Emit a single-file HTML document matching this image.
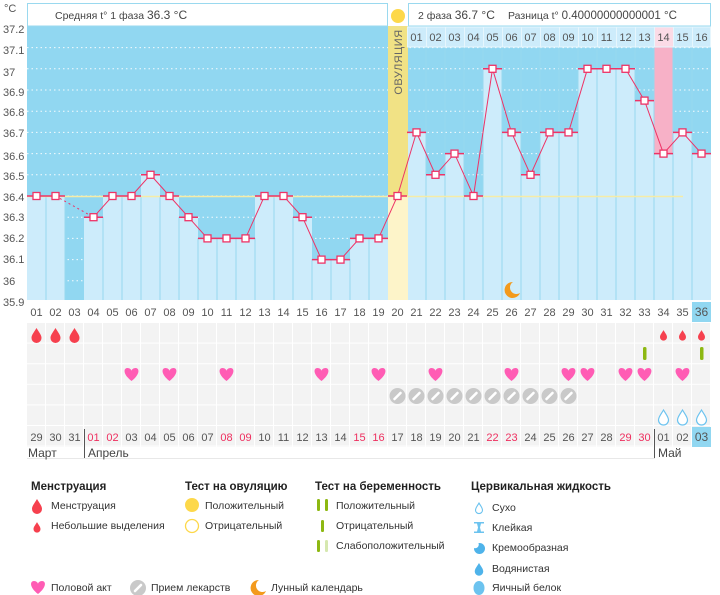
<!DOCTYPE html>
<html><head><meta charset="utf-8"><style>
html,body{margin:0;padding:0;background:#fff;width:720px;height:595px;overflow:hidden}
svg{display:block;font-family:"Liberation Sans","DejaVu Sans",sans-serif}
.ax{font-size:11px;fill:#555}
.dl{font-size:11px;fill:#555;text-anchor:middle}
.rd{fill:#ee2f5f}
.lh{font-size:11.5px;font-weight:bold;fill:#222}
.lt{font-size:10.5px;fill:#333}
</style></head><body>
<svg width="720" height="595" viewBox="0 0 720 595" xmlns="http://www.w3.org/2000/svg">
<defs>
<path id="drop" d="M0,-7 C3,-2 5,0 5,3 A5,5 0 0 1 -5,3 C-5,0 -3,-2 0,-7Z"/>
<path id="heart" d="M0,6 C-9,-1 -8,-7 -4,-7 C-2,-7 0,-5.5 0,-4 C0,-5.5 2,-7 4,-7 C8,-7 9,-1 0,6Z" fill="#ff5cb4"/>
<g id="pill"><circle r="8" fill="#c9c9c9"/><line x1="-3" y1="3" x2="3" y2="-3" stroke="#fff" stroke-width="2.6" stroke-linecap="round"/></g>
<path id="moon" d="M1,-8 A8,8 0 1 0 8,3 A6,6 0 0 1 1,-8Z" fill="#f39a1c"/>
<pattern id="cells" x="27" y="323" width="19" height="20.6" patternUnits="userSpaceOnUse">
<rect x="0" y="0" width="18" height="19.6" fill="#f3f3f3"/></pattern>
</defs>

<!-- y axis labels -->
<text class="ax" x="4" y="12">°C</text>
<text class="ax" x="3" y="33">37.2</text>
<text class="ax" x="3" y="54">37.1</text>
<text class="ax" x="3" y="76">37</text>
<text class="ax" x="3" y="96">36.9</text>
<text class="ax" x="3" y="116">36.8</text>
<text class="ax" x="3" y="137">36.7</text>
<text class="ax" x="3" y="160">36.6</text>
<text class="ax" x="3" y="180">36.5</text>
<text class="ax" x="3" y="201">36.4</text>
<text class="ax" x="3" y="221">36.3</text>
<text class="ax" x="3" y="242">36.2</text>
<text class="ax" x="3" y="263">36.1</text>
<text class="ax" x="3" y="285">36</text>
<text class="ax" x="3" y="306">35.9</text>

<!-- plot bg -->
<rect x="27" y="26" width="684" height="274" fill="#91d7f1"/>
<g stroke="#fff" stroke-dasharray="1.5,3" stroke-width="1" opacity="0.9">
<line x1="27" y1="47.6" x2="711" y2="47.6"/><line x1="27" y1="68.8" x2="711" y2="68.8"/>
<line x1="27" y1="90" x2="711" y2="90"/><line x1="27" y1="111.2" x2="711" y2="111.2"/>
<line x1="27" y1="132.4" x2="711" y2="132.4"/><line x1="27" y1="153.6" x2="711" y2="153.6"/>
<line x1="27" y1="174.8" x2="711" y2="174.8"/><line x1="27" y1="196" x2="711" y2="196"/>
<line x1="27" y1="217.2" x2="711" y2="217.2"/><line x1="27" y1="238.4" x2="711" y2="238.4"/>
<line x1="27" y1="259.6" x2="711" y2="259.6"/><line x1="27" y1="280.8" x2="711" y2="280.8"/>
</g>

<!-- bars -->
<g fill="#cdecfb">
<rect x="27" y="196" width="19" height="104"/><rect x="46" y="196" width="19" height="104"/>
<rect x="84" y="217.2" width="19" height="82.8"/><rect x="103" y="196" width="19" height="104"/>
<rect x="122" y="196" width="19" height="104"/><rect x="141" y="174.8" width="19" height="125.2"/>
<rect x="160" y="196" width="19" height="104"/><rect x="179" y="217.2" width="19" height="82.8"/>
<rect x="198" y="238.4" width="19" height="61.6"/><rect x="217" y="238.4" width="19" height="61.6"/>
<rect x="236" y="238.4" width="19" height="61.6"/><rect x="255" y="196" width="19" height="104"/>
<rect x="274" y="196" width="19" height="104"/><rect x="293" y="217.2" width="19" height="82.8"/>
<rect x="312" y="259.6" width="19" height="40.4"/><rect x="331" y="259.6" width="19" height="40.4"/>
<rect x="350" y="238.4" width="19" height="61.6"/><rect x="369" y="238.4" width="19" height="61.6"/>
<rect x="407" y="132.4" width="19" height="167.6"/><rect x="426" y="174.8" width="19" height="125.2"/>
<rect x="445" y="153.6" width="19" height="146.4"/><rect x="464" y="196" width="19" height="104"/>
<rect x="483" y="68.8" width="19" height="231.2"/><rect x="502" y="132.4" width="19" height="167.6"/>
<rect x="521" y="174.8" width="19" height="125.2"/><rect x="540" y="132.4" width="19" height="167.6"/>
<rect x="559" y="132.4" width="19" height="167.6"/><rect x="578" y="68.8" width="19" height="231.2"/>
<rect x="597" y="68.8" width="19" height="231.2"/><rect x="616" y="68.8" width="19" height="231.2"/>
<rect x="635" y="100.6" width="19" height="199.4"/><rect x="654" y="153.6" width="19" height="146.4"/>
<rect x="673" y="132.4" width="19" height="167.6"/><rect x="692" y="153.6" width="19" height="146.4"/>
</g>
<rect x="654" y="47" width="19" height="106.6" fill="#f7b1c7"/>
<!-- ovulation column -->
<rect x="388" y="26" width="20" height="170" fill="#f1e285"/>
<rect x="388" y="196" width="20" height="104" fill="#fdf4c9"/>
<text x="0" y="0" transform="translate(402,62) rotate(-90)" text-anchor="middle" font-size="11" fill="#666" letter-spacing="0.5">ОВУЛЯЦИЯ</text>

<!-- column separators -->
<g stroke="#97d8ef" stroke-width="1">
<line x1="46" y1="196" x2="46" y2="300"/><line x1="65" y1="196" x2="65" y2="300"/>
<line x1="103" y1="217" x2="103" y2="300"/><line x1="122" y1="196" x2="122" y2="300"/>
<line x1="141" y1="196" x2="141" y2="300"/><line x1="160" y1="196" x2="160" y2="300"/>
<line x1="179" y1="217" x2="179" y2="300"/><line x1="198" y1="238" x2="198" y2="300"/>
<line x1="217" y1="238" x2="217" y2="300"/><line x1="236" y1="238" x2="236" y2="300"/>
<line x1="255" y1="238" x2="255" y2="300"/><line x1="274" y1="196" x2="274" y2="300"/>
<line x1="293" y1="217" x2="293" y2="300"/><line x1="312" y1="259" x2="312" y2="300"/>
<line x1="331" y1="259" x2="331" y2="300"/><line x1="350" y1="259" x2="350" y2="300"/>
<line x1="369" y1="238" x2="369" y2="300"/>
<line x1="426" y1="47" x2="426" y2="300"/><line x1="445" y1="47" x2="445" y2="300"/>
<line x1="464" y1="47" x2="464" y2="300"/><line x1="483" y1="47" x2="483" y2="300"/>
<line x1="502" y1="47" x2="502" y2="300"/><line x1="521" y1="47" x2="521" y2="300"/>
<line x1="540" y1="47" x2="540" y2="300"/><line x1="559" y1="47" x2="559" y2="300"/>
<line x1="578" y1="47" x2="578" y2="300"/><line x1="597" y1="47" x2="597" y2="300"/>
<line x1="616" y1="47" x2="616" y2="300"/><line x1="635" y1="47" x2="635" y2="300"/>
<line x1="654" y1="47" x2="654" y2="300"/><line x1="673" y1="47" x2="673" y2="300"/>
<line x1="692" y1="47" x2="692" y2="300"/>
</g>

<!-- second phase header cells -->
<g fill="#cdecfb" stroke="#e6f6fd" stroke-width="1">
<rect x="407.5" y="27" width="19" height="20"/><rect x="426.5" y="27" width="19" height="20"/>
<rect x="445.5" y="27" width="19" height="20"/><rect x="464.5" y="27" width="19" height="20"/>
<rect x="483.5" y="27" width="19" height="20"/><rect x="502.5" y="27" width="19" height="20"/>
<rect x="521.5" y="27" width="19" height="20"/><rect x="540.5" y="27" width="19" height="20"/>
<rect x="559.5" y="27" width="19" height="20"/><rect x="578.5" y="27" width="19" height="20"/>
<rect x="597.5" y="27" width="19" height="20"/><rect x="616.5" y="27" width="19" height="20"/>
<rect x="635.5" y="27" width="19" height="20"/><rect x="654.5" y="27" width="19" height="20" fill="#fbdbe6"/>
<rect x="673.5" y="27" width="19" height="20"/><rect x="692.5" y="27" width="18" height="20"/>
</g>
<g class="dl">
<text x="416.5" y="41">01</text><text x="435.5" y="41">02</text><text x="454.5" y="41">03</text><text x="473.5" y="41">04</text>
<text x="492.5" y="41">05</text><text x="511.5" y="41">06</text><text x="530.5" y="41">07</text><text x="549.5" y="41">08</text>
<text x="568.5" y="41">09</text><text x="587.5" y="41">10</text><text x="606.5" y="41">11</text><text x="625.5" y="41">12</text>
<text x="644.5" y="41">13</text><text x="663.5" y="41">14</text><text x="682.5" y="41">15</text><text x="701.5" y="41">16</text>
</g>

<!-- header boxes -->
<rect x="27.5" y="3.5" width="360" height="22.5" fill="#fff" stroke="#9ad9ef"/>
<rect x="408.5" y="3.5" width="302" height="22.5" fill="#fff" stroke="#9ad9ef"/>
<rect x="388" y="3" width="20" height="23" fill="#fff"/>
<circle cx="398" cy="16" r="7" fill="#fdd84a"/>
<text x="55" y="19" font-size="10.5" fill="#444">Средняя t° 1 фаза <tspan font-size="12">36.3 °C</tspan></text>
<text x="418" y="19" font-size="10.5" fill="#444">2 фаза <tspan font-size="12">36.7 °C</tspan></text>
<text x="508" y="19" font-size="10.5" fill="#444">Разница t° <tspan font-size="11.5">0.40000000000001 °C</tspan></text>

<!-- cover line -->
<line x1="27" y1="196.5" x2="683" y2="196.5" stroke="#f6eca6" stroke-width="1.5"/>

<!-- top segments -->
<g stroke="#ee3366" stroke-width="1.5">
<line x1="27" y1="196" x2="46" y2="196"/><line x1="46" y1="196" x2="65" y2="196"/>
<line x1="84" y1="217.2" x2="103" y2="217.2"/><line x1="103" y1="196" x2="122" y2="196"/>
<line x1="122" y1="196" x2="141" y2="196"/><line x1="141" y1="174.8" x2="160" y2="174.8"/>
<line x1="160" y1="196" x2="179" y2="196"/><line x1="179" y1="217.2" x2="198" y2="217.2"/>
<line x1="198" y1="238.4" x2="255" y2="238.4"/><line x1="255" y1="196" x2="293" y2="196"/>
<line x1="293" y1="217.2" x2="312" y2="217.2"/><line x1="312" y1="259.6" x2="350" y2="259.6"/>
<line x1="350" y1="238.4" x2="388" y2="238.4"/><line x1="388" y1="196" x2="407" y2="196"/>
<line x1="407" y1="132.4" x2="426" y2="132.4"/><line x1="426" y1="174.8" x2="445" y2="174.8"/>
<line x1="445" y1="153.6" x2="464" y2="153.6"/><line x1="464" y1="196" x2="483" y2="196"/>
<line x1="483" y1="68.8" x2="502" y2="68.8"/><line x1="502" y1="132.4" x2="521" y2="132.4"/>
<line x1="521" y1="174.8" x2="540" y2="174.8"/><line x1="540" y1="132.4" x2="578" y2="132.4"/>
<line x1="578" y1="68.8" x2="635" y2="68.8"/><line x1="635" y1="100.6" x2="654" y2="100.6"/>
<line x1="654" y1="153.6" x2="673" y2="153.6"/><line x1="673" y1="132.4" x2="692" y2="132.4"/>
<line x1="692" y1="153.6" x2="711" y2="153.6"/>
</g>
<polyline fill="none" stroke="#ee3366" stroke-width="1" points="55.5,196 74.5,206.6 93.5,217.2" stroke-dasharray="2,3"/>
<polyline fill="none" stroke="#ee3366" stroke-width="1" points="93.5,217.2 112.5,196 131.5,196 150.5,174.8 169.5,196 188.5,217.2 207.5,238.4 226.5,238.4 245.5,238.4 264.5,196 283.5,196 302.5,217.2 321.5,259.6 340.5,259.6 359.5,238.4 378.5,238.4 397.5,196 416.5,132.4 435.5,174.8 454.5,153.6 473.5,196 492.5,68.8 511.5,132.4 530.5,174.8 549.5,132.4 568.5,132.4 587.5,68.8 606.5,68.8 625.5,68.8 644.5,100.6 663.5,153.6 682.5,132.4 701.5,153.6"/>
<polyline fill="none" stroke="#ee3366" stroke-width="1" points="36.5,196 55.5,196"/>
<g fill="#fff" stroke="#ee3366" stroke-width="1.3">
<rect x="33" y="192.5" width="7" height="7"/><rect x="52" y="192.5" width="7" height="7"/>
<rect x="90" y="213.7" width="7" height="7"/><rect x="109" y="192.5" width="7" height="7"/>
<rect x="128" y="192.5" width="7" height="7"/><rect x="147" y="171.3" width="7" height="7"/>
<rect x="166" y="192.5" width="7" height="7"/><rect x="185" y="213.7" width="7" height="7"/>
<rect x="204" y="234.9" width="7" height="7"/><rect x="223" y="234.9" width="7" height="7"/>
<rect x="242" y="234.9" width="7" height="7"/><rect x="261" y="192.5" width="7" height="7"/>
<rect x="280" y="192.5" width="7" height="7"/><rect x="299" y="213.7" width="7" height="7"/>
<rect x="318" y="256.1" width="7" height="7"/><rect x="337" y="256.1" width="7" height="7"/>
<rect x="356" y="234.9" width="7" height="7"/><rect x="375" y="234.9" width="7" height="7"/>
<rect x="394" y="192.5" width="7" height="7"/><rect x="413" y="128.9" width="7" height="7"/>
<rect x="432" y="171.3" width="7" height="7"/><rect x="451" y="150.1" width="7" height="7"/>
<rect x="470" y="192.5" width="7" height="7"/><rect x="489" y="65.3" width="7" height="7"/>
<rect x="508" y="128.9" width="7" height="7"/><rect x="527" y="171.3" width="7" height="7"/>
<rect x="546" y="128.9" width="7" height="7"/><rect x="565" y="128.9" width="7" height="7"/>
<rect x="584" y="65.3" width="7" height="7"/><rect x="603" y="65.3" width="7" height="7"/>
<rect x="622" y="65.3" width="7" height="7"/><rect x="641" y="97.1" width="7" height="7"/>
<rect x="660" y="150.1" width="7" height="7"/><rect x="679" y="128.9" width="7" height="7"/>
<rect x="698" y="150.1" width="7" height="7"/>
</g>
<use href="#moon" x="512" y="290"/>

<!-- day numbers -->
<rect x="692" y="302" width="19" height="20" fill="#91d7f1"/>
<g class="dl">
<text x="36.5" y="316">01</text><text x="55.5" y="316">02</text><text x="74.5" y="316">03</text><text x="93.5" y="316">04</text>
<text x="112.5" y="316">05</text><text x="131.5" y="316">06</text><text x="150.5" y="316">07</text><text x="169.5" y="316">08</text>
<text x="188.5" y="316">09</text><text x="207.5" y="316">10</text><text x="226.5" y="316">11</text><text x="245.5" y="316">12</text>
<text x="264.5" y="316">13</text><text x="283.5" y="316">14</text><text x="302.5" y="316">15</text><text x="321.5" y="316">16</text>
<text x="340.5" y="316">17</text><text x="359.5" y="316">18</text><text x="378.5" y="316">19</text><text x="397.5" y="316">20</text>
<text x="416.5" y="316">21</text><text x="435.5" y="316">22</text><text x="454.5" y="316">23</text><text x="473.5" y="316">24</text>
<text x="492.5" y="316">25</text><text x="511.5" y="316">26</text><text x="530.5" y="316">27</text><text x="549.5" y="316">28</text>
<text x="568.5" y="316">29</text><text x="587.5" y="316">30</text><text x="606.5" y="316">31</text><text x="625.5" y="316">32</text>
<text x="644.5" y="316">33</text><text x="663.5" y="316">34</text><text x="682.5" y="316">35</text><text x="701.5" y="316" font-size="12">36</text>
</g>

<!-- icon rows -->
<rect x="27" y="323" width="684" height="124" fill="url(#cells)"/>
<g fill="#f6404e">
<use href="#drop" x="36.5" y="335"/><use href="#drop" x="55.5" y="335"/><use href="#drop" x="74.5" y="335"/>
<use href="#drop" transform="translate(663.5,335) scale(0.7)"/><use href="#drop" transform="translate(682.5,335) scale(0.7)"/><use href="#drop" transform="translate(701.5,335) scale(0.7)"/>
</g>
<g fill="#8db812"><rect x="643" y="347" width="3.5" height="13" rx="1.5"/><rect x="700" y="347" width="3.5" height="13" rx="1.5"/></g>
<use href="#heart" x="131.5" y="375"/><use href="#heart" x="169.5" y="375"/><use href="#heart" x="226.5" y="375"/>
<use href="#heart" x="321.5" y="375"/><use href="#heart" x="378.5" y="375"/><use href="#heart" x="435.5" y="375"/>
<use href="#heart" x="511.5" y="375"/><use href="#heart" x="568.5" y="375"/><use href="#heart" x="587.5" y="375"/>
<use href="#heart" x="625.5" y="375"/><use href="#heart" x="644.5" y="375"/><use href="#heart" x="682.5" y="375"/>
<use href="#pill" x="397.5" y="396"/><use href="#pill" x="416.5" y="396"/><use href="#pill" x="435.5" y="396"/>
<use href="#pill" x="454.5" y="396"/><use href="#pill" x="473.5" y="396"/><use href="#pill" x="492.5" y="396"/>
<use href="#pill" x="511.5" y="396"/><use href="#pill" x="530.5" y="396"/><use href="#pill" x="549.5" y="396"/>
<use href="#pill" x="568.5" y="396"/>
<g fill="#fff" stroke="#6cc3ef" stroke-width="1.2">
<use href="#drop" x="663.5" y="417"/><use href="#drop" x="682.5" y="417"/><use href="#drop" x="701.5" y="417"/>
</g>

<!-- dates -->
<rect x="692" y="427" width="19" height="20" fill="#91d7f1"/>
<g class="dl">
<text x="36.5" y="441">29</text><text x="55.5" y="441">30</text><text x="74.5" y="441">31</text><text x="93.5" y="441" class="rd">01</text>
<text x="112.5" y="441" class="rd">02</text><text x="131.5" y="441">03</text><text x="150.5" y="441">04</text><text x="169.5" y="441">05</text>
<text x="188.5" y="441">06</text><text x="207.5" y="441">07</text><text x="226.5" y="441" class="rd">08</text><text x="245.5" y="441" class="rd">09</text>
<text x="264.5" y="441">10</text><text x="283.5" y="441">11</text><text x="302.5" y="441">12</text><text x="321.5" y="441">13</text>
<text x="340.5" y="441">14</text><text x="359.5" y="441" class="rd">15</text><text x="378.5" y="441" class="rd">16</text><text x="397.5" y="441">17</text>
<text x="416.5" y="441">18</text><text x="435.5" y="441">19</text><text x="454.5" y="441">20</text><text x="473.5" y="441">21</text>
<text x="492.5" y="441" class="rd">22</text><text x="511.5" y="441" class="rd">23</text><text x="530.5" y="441">24</text><text x="549.5" y="441">25</text>
<text x="568.5" y="441">26</text><text x="587.5" y="441">27</text><text x="606.5" y="441">28</text><text x="625.5" y="441" class="rd">29</text>
<text x="644.5" y="441" class="rd">30</text><text x="663.5" y="441">01</text><text x="682.5" y="441">02</text><text x="701.5" y="441" font-size="12">03</text>
</g>
<line x1="27" y1="458.5" x2="655" y2="458.5" stroke="#e8e8e8"/>
<line x1="84.5" y1="429" x2="84.5" y2="458" stroke="#555"/>
<line x1="654.5" y1="429" x2="654.5" y2="458" stroke="#555"/>
<text x="28" y="457" font-size="12" fill="#444">Март</text>
<text x="88" y="457" font-size="12" fill="#444">Апрель</text>
<text x="658" y="457" font-size="12" fill="#444">Май</text>

<!-- legend -->
<text class="lh" x="31" y="490">Менструация</text>
<use href="#drop" x="37" y="506" fill="#f6404e"/>
<text class="lt" x="51" y="509">Менструация</text>
<use href="#drop" transform="translate(37,527) scale(0.7)" fill="#f6404e"/>
<text class="lt" x="51" y="529">Небольшие выделения</text>

<text class="lh" x="185" y="490">Тест на овуляцию</text>
<circle cx="192" cy="505" r="7" fill="#fdd84a"/>
<text class="lt" x="205" y="509">Положительный</text>
<circle cx="192" cy="526" r="6.5" fill="#fff" stroke="#fdd84a" stroke-width="1.3"/>
<text class="lt" x="205" y="529">Отрицательный</text>

<text class="lh" x="315" y="490">Тест на беременность</text>
<g fill="#8db812">
<rect x="317" y="499" width="3" height="12" rx="1.4"/><rect x="325" y="499" width="3" height="12" rx="1.4"/>
<rect x="321" y="520" width="3" height="12" rx="1.4"/>
<rect x="317" y="540" width="3" height="12" rx="1.4"/></g>
<rect x="325" y="540" width="3" height="12" rx="1.4" fill="#d6e8b0"/>
<text class="lt" x="336" y="509">Положительный</text>
<text class="lt" x="336" y="529">Отрицательный</text>
<text class="lt" x="336" y="549">Слабоположительный</text>

<text class="lh" x="471" y="490">Цервикальная жидкость</text>
<use href="#drop" transform="translate(479,508) scale(0.7)" fill="#fff" stroke="#6cc3ef" stroke-width="1.6"/>
<text class="lt" x="492" y="511">Сухо</text>
<path d="M474,522 h10 v1.5 h-3 l-1,4 l1,4 h3 v1.5 h-10 v-1.5 h3 l1,-4 l-1,-4 h-3z" fill="#6cc3ef"/>
<text class="lt" x="492" y="531">Клейкая</text>
<circle cx="479.5" cy="548.5" r="5.5" fill="#4eb3ea"/>
<circle cx="475" cy="544.5" r="3.8" fill="#fff"/>
<text class="lt" x="492" y="551">Кремообразная</text>
<use href="#drop" transform="translate(479,569) scale(0.85)" fill="#4eb3ea"/>
<text class="lt" x="492" y="572">Водянистая</text>
<ellipse cx="479" cy="588" rx="5.5" ry="7" fill="#6cc3ef"/>
<text class="lt" x="492" y="591">Яичный белок</text>

<use href="#heart" x="38" y="588"/>
<text class="lt" x="51" y="591">Половой акт</text>
<use href="#pill" x="138" y="588"/>
<text class="lt" x="151" y="591">Прием лекарств</text>
<use href="#moon" x="258" y="588"/>
<text class="lt" x="271" y="591">Лунный календарь</text>
</svg>
</body></html>
